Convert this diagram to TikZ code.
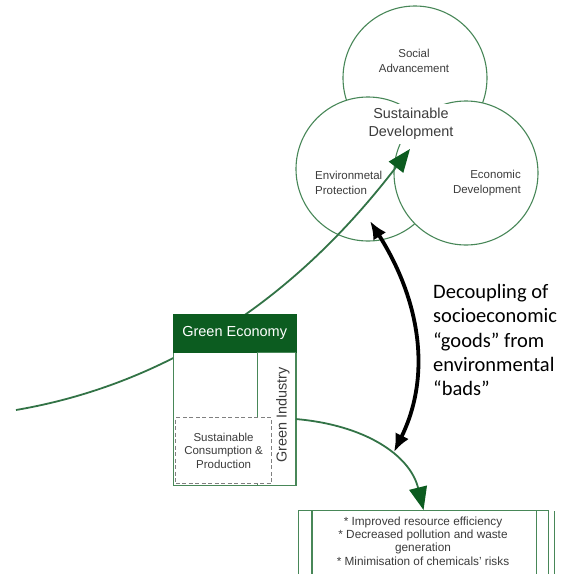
\documentclass[tikz,border=0pt]{standalone}
\usepackage{fontspec}
\setmainfont{Liberation Sans}
\newfontfamily\calfont{Carlito}
\usetikzlibrary{arrows.meta}
\definecolor{gline}{RGB}{72,135,88}
\definecolor{gcurve}{RGB}{50,115,70}
\definecolor{gdark}{RGB}{12,92,32}
\definecolor{txt}{RGB}{60,60,60}

\begin{document}
\begin{tikzpicture}[x=1pt,y=-1pt,
  venn/.style={circle, draw=gline, line width=1.1pt, fill=white, inner sep=0pt, minimum size=144pt},
  vlabel/.style={font=\fontsize{11.5}{15}\selectfont, text=txt, inner sep=0pt},
  flow/.style={draw=gcurve, line width=1.8pt, -{Triangle[length=23pt,width=18pt,color=gdark]}},
  gbox/.style={draw=gline, line width=1.1pt, fill=white, inner sep=0pt},
  decouple/.style={line width=3.8pt, {Latex[length=18pt,width=15pt]}-{Latex[length=18pt,width=15pt]}}
]
\useasboundingbox (0,0) rectangle (574,574);

% three pillars of sustainable development
\node[venn] (soc) at (415,78) {};
\node[venn] (env) at (368,169) {};
\node[venn] (eco) at (466,173) {};

\node[vlabel, align=center] (soclab) at (414,61) {Social\\Advancement};
\node[vlabel, align=left, anchor=west] (envlab) at (315,183) {Environmetal\\Protection};
\node[vlabel, align=right, anchor=east] (ecolab) at (521,183) {Economic\\Development};
\node[font=\fontsize{14.4}{18}\selectfont, text=txt, fill=white, align=center,
      inner xsep=1pt, inner ysep=4pt] (sd) at (411,124) {Sustainable\\Development};

% the long green path towards sustainable development
\coordinate (lstart) at (16,410);
\coordinate (sdtip) at (410,149);
\draw[flow] (lstart) .. controls (220,375) and (340,240) .. (sdtip);

% green economy block
\node[gbox, minimum width=123pt, minimum height=171pt, anchor=north west] (ge) at (173,314) {};
\node[fill=gdark, draw=gdark, minimum width=123pt, minimum height=38pt, anchor=north west,
      inner sep=0pt, text=white, font=\fontsize{14.5}{17}\selectfont] (gehead) at (173,314) {Green Economy};
\node[gbox, minimum width=38pt, minimum height=133pt, anchor=north east] (gi) at (296,352) {};
\node[rotate=90, font=\fontsize{14.4}{17}\selectfont, text=txt, inner sep=0pt] (gilab) at (283,415) {Green Industry};
\node[draw=gray, dash pattern=on 4pt off 2.5pt, line width=1.2pt, fill=white,
      minimum width=96pt, minimum height=66pt, anchor=north west, inner sep=0pt,
      align=center, font=\fontsize{11.5}{13.5}\selectfont, text=txt] (scp) at (175,417)
      {Sustainable\\Consumption \&\\Production};

% outcomes box
\node[gbox, minimum width=250pt, minimum height=80pt, anchor=north west] (res) at (298,510) {};
\draw[gline, line width=1.1pt] ([xshift=14pt]res.north west) -- ([xshift=14pt]res.south west);
\draw[gline, line width=1.1pt] ([xshift=-13pt]res.north east) -- ([xshift=-13pt]res.south east);
\draw[gline, line width=1.1pt] ([xshift=5pt,yshift=-1pt]res.north east) -- ([xshift=5pt]res.south east);
\node[font=\fontsize{11.8}{13.4}\selectfont, text=txt, align=center] (restext) at (423,541)
  {* Improved resource efficiency\\* Decreased pollution and waste\\generation\\* Minimisation of chemicals' risks};

\draw[flow] (gi.east) .. controls (365,425) and (410,455) .. (res.north);

% decoupling arrow
\coordinate (dtop) at (370,221);
\coordinate (dbot) at (394,452);
\draw[decouple] (dtop) .. controls (420,300) and (432,375) .. (dbot);
\node[font=\calfont\fontsize{20.5}{24.3}\selectfont, align=left, anchor=north west, inner sep=0pt] (dec) at (433,284)
  {Decoupling of\\socioeconomic\\“goods” from\\environmental\\“bads”};
\end{tikzpicture}
\end{document}
